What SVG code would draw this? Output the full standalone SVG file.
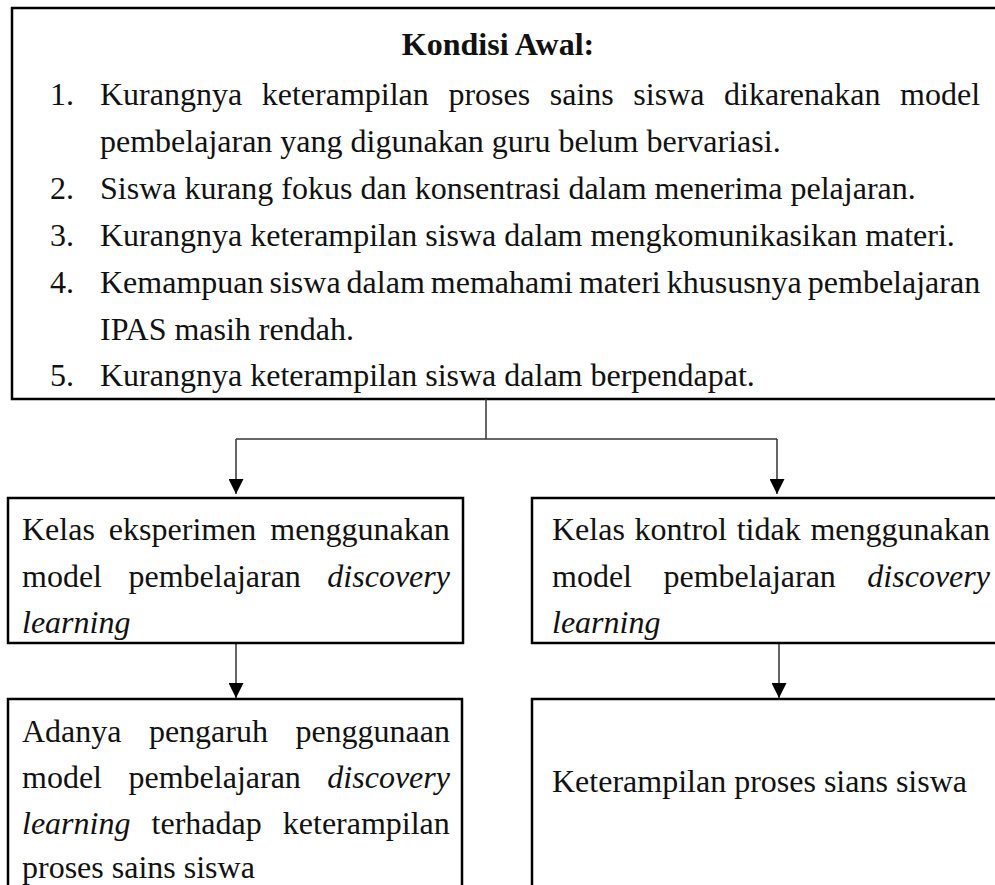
<svg xmlns="http://www.w3.org/2000/svg" width="995" height="885" viewBox="0 0 995 885">
<defs>
<marker id="arr" markerWidth="15" markerHeight="15" viewBox="0 0 15 15" refX="15" refY="7.5" orient="auto" markerUnits="userSpaceOnUse">
<path d="M0,0 L15,7.5 L0,15 Z" fill="#000"/>
</marker>
</defs>
<style>
.box{fill:#fff;stroke:#000;stroke-width:2.5}
.t{font-family:"Liberation Serif","Times New Roman",serif;font-size:32px;fill:#111}
.b{font-weight:bold}
.i{font-style:italic}
.c{fill:none;stroke:#333;stroke-width:1.5}
</style>
<rect width="995" height="885" fill="#fff"/>
<g id="kondisi-awal">
<rect class="box" x="12" y="8" width="990" height="391"/>
<text class="t b" x="498" y="55" text-anchor="middle">Kondisi Awal:</text>
<text class="t" x="50" y="105">1.</text>
<text class="t" x="100" y="105" word-spacing="11.6">Kurangnya keterampilan proses sains siswa dikarenakan model</text>
<text class="t" x="100" y="152">pembelajaran yang digunakan guru belum bervariasi.</text>
<text class="t" x="50" y="199">2.</text>
<text class="t" x="100" y="199">Siswa kurang fokus dan konsentrasi dalam menerima pelajaran.</text>
<text class="t" x="50" y="246">3.</text>
<text class="t" x="100" y="246">Kurangnya keterampilan siswa dalam mengkomunikasikan materi.</text>
<text class="t" x="50" y="293">4.</text>
<text class="t" x="100" y="293" word-spacing="-2">Kemampuan siswa dalam memahami materi khususnya pembelajaran</text>
<text class="t" x="100" y="340">IPAS masih rendah.</text>
<text class="t" x="50" y="386">5.</text>
<text class="t" x="100" y="386">Kurangnya keterampilan siswa dalam berpendapat.</text>
</g>
<g id="connectors">
<line class="c" x1="486" y1="399" x2="486" y2="439"/>
<line class="c" x1="236" y1="439" x2="777" y2="439"/>
<line class="c" x1="236" y1="439" x2="236" y2="494" marker-end="url(#arr)"/>
<line class="c" x1="777" y1="439" x2="777" y2="494" marker-end="url(#arr)"/>
<line class="c" x1="236" y1="643" x2="236" y2="698" marker-end="url(#arr)"/>
<line class="c" x1="779" y1="643" x2="779" y2="698" marker-end="url(#arr)"/>
</g>
<g id="kelas-eksperimen">
<rect class="box" x="8" y="498" width="455" height="145"/>
<text class="t" x="22" y="540" word-spacing="6">Kelas eksperimen menggunakan</text>
<text class="t" x="22" y="587" word-spacing="18.5">model pembelajaran <tspan class="i">discovery</tspan></text>
<text class="t i" x="22" y="633">learning</text>
</g>
<g id="kelas-kontrol">
<rect class="box" x="532" y="498" width="470" height="145"/>
<text class="t" x="552" y="540" word-spacing="1.7">Kelas kontrol tidak menggunakan</text>
<text class="t" x="552" y="587" word-spacing="23.5">model pembelajaran <tspan class="i">discovery</tspan></text>
<text class="t i" x="552" y="633">learning</text>
</g>
<g id="hasil-eksperimen">
<rect class="box" x="8" y="699" width="454" height="200"/>
<text class="t" x="22" y="742" word-spacing="19.4">Adanya pengaruh penggunaan</text>
<text class="t" x="22" y="788" word-spacing="18.5">model pembelajaran <tspan class="i">discovery</tspan></text>
<text class="t" x="22" y="834" word-spacing="13.1"><tspan class="i">learning</tspan> terhadap keterampilan</text>
<text class="t" x="22" y="878">proses sains siswa</text>
</g>
<g id="hasil-kontrol">
<rect class="box" x="532" y="699" width="470" height="200"/>
<text class="t" x="552" y="792">Keterampilan proses sians siswa</text>
</g>
</svg>
